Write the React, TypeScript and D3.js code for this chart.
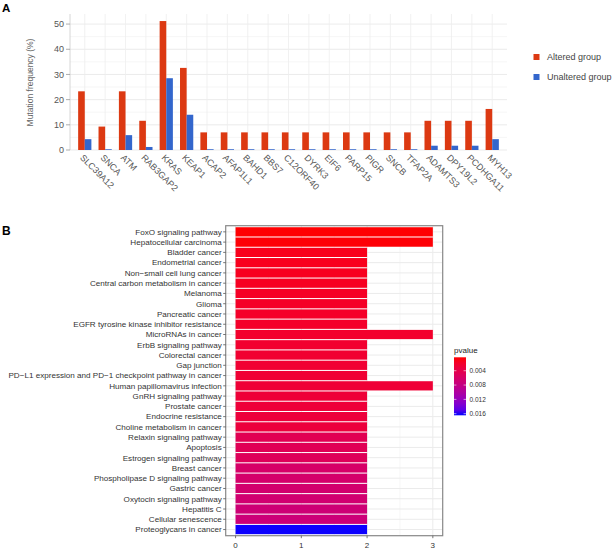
import React from "react";
import * as d3 from "d3";

const genes = ["SLC39A12","SNCA","ATM","RAB3GAP2","KRAS","KEAP1","ACAP2","AFAP1L1","BAHD1","BBS7","C12ORF40","DYRK3","EIF6","PARP15","PIGR","SNCB","TFAP2A","ADAMTS3","DPY19L2","PCDHGA11","MYH13"];
const altered = [23.3,9.3,23.3,11.6,51.2,32.6,7.0,7.0,7.0,7.0,7.0,7.0,7.0,7.0,7.0,7.0,7.0,11.6,11.6,11.6,16.3];
const unaltered = [4.3,0.3,5.9,1.2,28.5,14.0,0.3,0.3,0.3,0.3,0.3,0.3,0.3,0.3,0.3,0.3,0.3,1.7,1.7,1.7,4.3];
const yTicksA = [0,10,20,30,40,50];
const seriesNames = ["Altered group","Unaltered group"];
const seriesColors = ["#DC3912","#3366CC"];

const pathways = ["FoxO signaling pathway","Hepatocellular carcinoma","Bladder cancer","Endometrial cancer","Non\u2212small cell lung cancer","Central carbon metabolism in cancer","Melanoma","Glioma","Pancreatic cancer","EGFR tyrosine kinase inhibitor resistance","MicroRNAs in cancer","ErbB signaling pathway","Colorectal cancer","Gap junction","PD\u2212L1 expression and PD\u22121 checkpoint pathway in cancer","Human papillomavirus infection","GnRH signaling pathway","Prostate cancer","Endocrine resistance","Choline metabolism in cancer","Relaxin signaling pathway","Apoptosis","Estrogen signaling pathway","Breast cancer","Phospholipase D signaling pathway","Gastric cancer","Oxytocin signaling pathway","Hepatitis C","Cellular senescence","Proteoglycans in cancer"];
const counts = [3,3,2,2,2,2,2,2,2,2,3,2,2,2,2,3,2,2,2,2,2,2,2,2,2,2,2,2,2,2];
const pvalues = [0.0003,0.0004,0.0011,0.0012,0.0013,0.0014,0.0016,0.0017,0.0018,0.0019,0.0020,0.0022,0.0023,0.0024,0.0025,0.0026,0.0027,0.0028,0.0029,0.0030,0.0045,0.0047,0.0050,0.0060,0.0062,0.0064,0.0066,0.0070,0.0072,0.0164];
const xTicksB = [0,1,2,3];
const legendTicksB = [0.004,0.008,0.012,0.016];

const FONT = "Liberation Sans, Arial, Helvetica, sans-serif";

export default function App() {
  // Panel A
  const ax0 = 70, ax1 = 507, ayTop = 14, ayBot = 150;
  const xA = d3.scaleBand<string>().domain(genes).range([ax0, ax1]).paddingInner(0.35).paddingOuter(0.4);
  const yA = d3.scaleLinear().domain([0, 54]).range([ayBot, ayTop]);
  const bw = xA.bandwidth() / 2;
  const minorA = [5,15,25,35,45];

  // Panel B
  const bx0 = 225.7, bx1 = 442.7, byTop = 225.7, byBot = 535.7;
  const xB = d3.scaleLinear().domain([-0.15, 3.15]).range([bx0, bx1]);
  const yB = d3.scalePoint<string>().domain(pathways).range([byTop, byBot]).padding(0.6);
  const step = yB.step();
  const pmin = 0.00025, pmax = 0.01645;
  const color = d3.scaleLinear<string>().domain([pmin, pmax]).range(["#FF0000", "#0000FF"]).interpolate(d3.interpolateLab);
  const lgTop = 357.3, lgBot = 415.3, lgX = 454, lgW = 12;
  const yLeg = d3.scaleLinear().domain([pmin, pmax]).range([lgTop, lgBot]);
  const gradStops = d3.range(0, 1.0001, 0.1);

  return (
    <svg width={613} height={549} style={{ position: "absolute", left: 0, top: 0, background: "#fff" }} fontFamily={FONT}>
      <defs>
        <linearGradient id="pgrad" x1="0" y1="0" x2="0" y2="1">
          {gradStops.map((t) => (
            <stop key={t} offset={`${t * 100}%`} stopColor={color(pmin + t * (pmax - pmin))} />
          ))}
        </linearGradient>
      </defs>
      <rect x={0} y={0} width={613} height={549} fill="#fff" />
      {/* Panel A */}
      <text x={2} y={11.5} fontSize={11.5} fontWeight="bold" fill="#000">A</text>
      {minorA.map((v) => (
        <line key={"mn" + v} x1={ax0} x2={ax1} y1={yA(v)} y2={yA(v)} stroke="#f4f4f4" strokeWidth={0.8} />
      ))}
      {yTicksA.map((v) => (
        <line key={"mj" + v} x1={ax0} x2={ax1} y1={yA(v)} y2={yA(v)} stroke="#e6e6e6" strokeWidth={0.8} />
      ))}
      {genes.map((g) => (
        <line key={"vg" + g} x1={xA(g)! + xA.bandwidth() / 2} x2={xA(g)! + xA.bandwidth() / 2} y1={ayTop} y2={ayBot} stroke="#eeeeee" strokeWidth={0.8} />
      ))}
      <line x1={ax0} x2={ax0} y1={ayTop} y2={ayBot} stroke="#cccccc" strokeWidth={0.8} />
      {yTicksA.map((v) => (
        <g key={"yt" + v}>
          <line x1={ax0 - 4} x2={ax0} y1={yA(v)} y2={yA(v)} stroke="#999" strokeWidth={0.8} />
          <text x={ax0 - 6} y={yA(v)} dy="0.35em" textAnchor="end" fontSize={9} fill="#555">{v}</text>
        </g>
      ))}
      {genes.map((g, i) => (
        <g key={"bar" + g}>
          <rect x={xA(g)!} y={yA(altered[i])} width={bw} height={ayBot - yA(altered[i])} fill={seriesColors[0]} />
          <rect x={xA(g)! + bw} y={yA(unaltered[i])} width={bw} height={ayBot - yA(unaltered[i])} fill={seriesColors[1]} />
          <text transform={`translate(${xA(g)! + xA.bandwidth() / 2 - 3},${ayBot + 6}) rotate(45)`} fontSize={9} fill="#555" dy="0.35em">{g}</text>
        </g>
      ))}
      <text transform={`translate(33,82.5) rotate(-90)`} textAnchor="middle" fontSize={8.5} fill="#666">Mutation frequency (%)</text>
      {seriesNames.map((s, i) => (
        <g key={"lg" + s}>
          <rect x={533.5} y={54 + i * 20} width={6} height={6} fill={seriesColors[i]} />
          <text x={547} y={57 + i * 20} dy="0.35em" fontSize={9} fill="#444">{s}</text>
        </g>
      ))}

      {/* Panel B */}
      <text x={2} y={235} fontSize={12} fontWeight="bold" fill="#000">B</text>
      {[0.5, 1.5, 2.5].map((v) => (
        <line key={"bmn" + v} x1={xB(v)} x2={xB(v)} y1={byTop} y2={byBot} stroke="#f2f2f2" strokeWidth={0.6} />
      ))}
      {xTicksB.map((v) => (
        <line key={"bmj" + v} x1={xB(v)} x2={xB(v)} y1={byTop} y2={byBot} stroke="#ebebeb" strokeWidth={1} />
      ))}
      {pathways.map((p) => (
        <line key={"hg" + p} x1={bx0} x2={bx1} y1={yB(p)!} y2={yB(p)!} stroke="#ebebeb" strokeWidth={1} />
      ))}
      {pathways.map((p, i) => (
        <rect key={"bb" + p} x={xB(0)} y={yB(p)! - step * 0.45} width={xB(counts[i]) - xB(0)} height={step * 0.9} fill={color(pvalues[i])} />
      ))}
      <rect x={bx0} y={byTop} width={bx1 - bx0} height={byBot - byTop} fill="none" stroke="#888" strokeWidth={1.2} />
      {pathways.map((p) => (
        <g key={"yl" + p}>
          <line x1={bx0 - 2.5} x2={bx0} y1={yB(p)!} y2={yB(p)!} stroke="#555" strokeWidth={0.8} />
          <text x={bx0 - 4} y={yB(p)!} dy="0.35em" textAnchor="end" fontSize={8.1} fill="#333">{p}</text>
        </g>
      ))}
      {xTicksB.map((v) => (
        <g key={"xl" + v}>
          <line x1={xB(v)} x2={xB(v)} y1={byBot} y2={byBot + 2.5} stroke="#555" strokeWidth={0.8} />
          <text x={xB(v)} y={byBot + 7} dy="0.71em" textAnchor="middle" fontSize={8} fill="#333">{v}</text>
        </g>
      ))}
      <text x={lgX} y={353.3} fontSize={8} fill="#222">pvalue</text>
      <rect x={lgX} y={lgTop} width={lgW} height={lgBot - lgTop} fill="url(#pgrad)" />
      {legendTicksB.map((v) => (
        <g key={"lt" + v}>
          <line x1={lgX} x2={lgX + 2.4} y1={yLeg(v)} y2={yLeg(v)} stroke="#fff" strokeWidth={0.6} />
          <line x1={lgX + lgW - 2.4} x2={lgX + lgW} y1={yLeg(v)} y2={yLeg(v)} stroke="#fff" strokeWidth={0.6} />
          <text x={lgX + lgW + 3.5} y={yLeg(v)} dy="0.35em" fontSize={6.5} fill="#333">{v.toFixed(3)}</text>
        </g>
      ))}
    </svg>
  );
}
